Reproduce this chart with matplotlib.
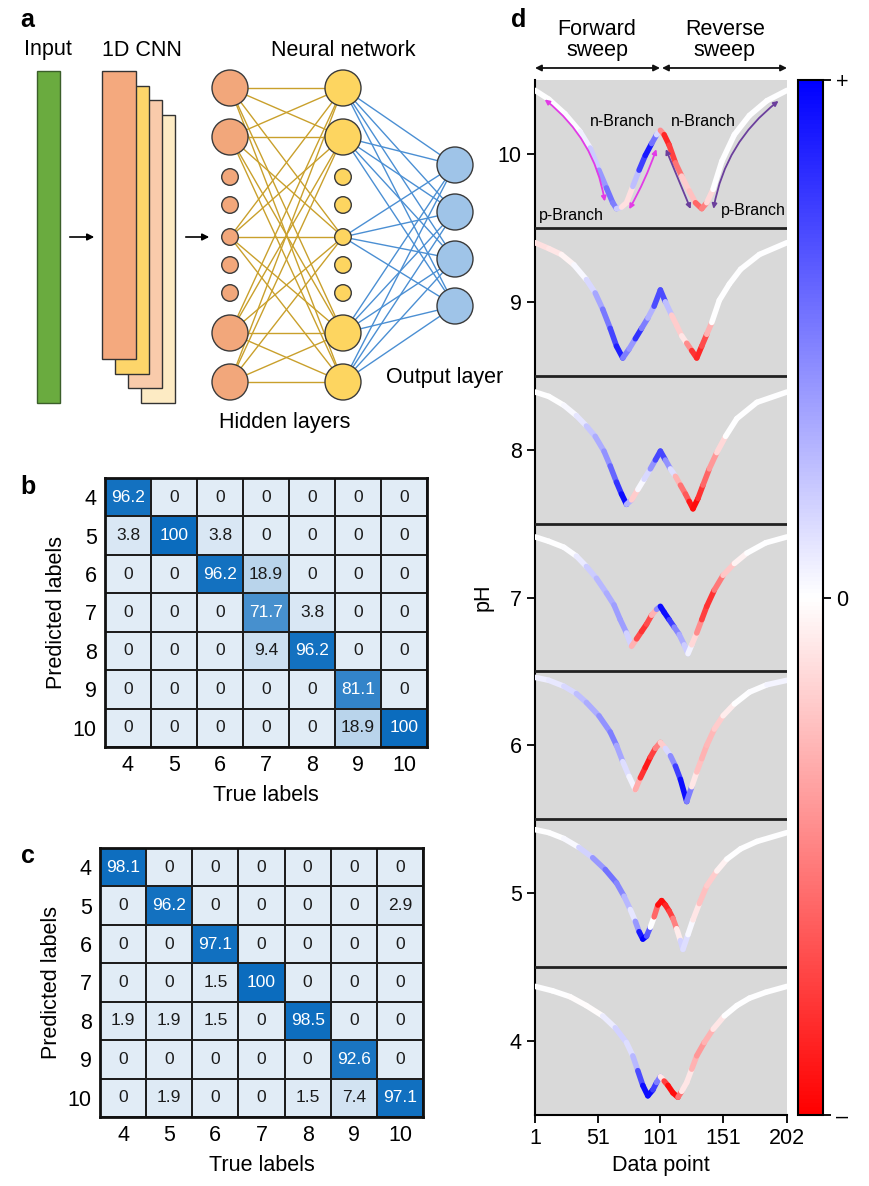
import numpy as np
import matplotlib
matplotlib.use("Agg")
import matplotlib.pyplot as plt
from matplotlib.collections import LineCollection
from matplotlib.colors import LinearSegmentedColormap, Normalize
from matplotlib.patches import Rectangle, Circle, FancyArrowPatch
import matplotlib.cm as mcm

plt.rcParams['font.family'] = ['Liberation Sans', 'DejaVu Sans']

W, H = 869, 1186

# ---- confusion matrices (rows: predicted 4..10, cols: true 4..10)
labels = [4, 5, 6, 7, 8, 9, 10]
cm_b = [[96.2, 0, 0, 0, 0, 0, 0],
        [3.8, 100, 3.8, 0, 0, 0, 0],
        [0, 0, 96.2, 18.9, 0, 0, 0],
        [0, 0, 0, 71.7, 3.8, 0, 0],
        [0, 0, 0, 9.4, 96.2, 0, 0],
        [0, 0, 0, 0, 0, 81.1, 0],
        [0, 0, 0, 0, 0, 18.9, 100]]
cm_c = [[98.1, 0, 0, 0, 0, 0, 0],
        [0, 96.2, 0, 0, 0, 0, 2.9],
        [0, 0, 97.1, 0, 0, 0, 0],
        [0, 0, 1.5, 100, 0, 0, 0],
        [1.9, 1.9, 1.5, 0, 98.5, 0, 0],
        [0, 0, 0, 0, 0, 92.6, 0],
        [0, 1.9, 0, 0, 1.5, 7.4, 97.1]]

# ---- panel d: transfer curves per pH, coloured by contribution (-1..+1)
x10 = [1, 12, 25, 37, 45, 52, 58, 63, 66, 70, 74, 79, 84, 89, 94, 98, 101, 104, 108, 113, 118, 124, 129, 134, 138, 143, 150, 160, 172, 186, 202]
ph10 = [10.43, 10.37, 10.27, 10.15, 10.04, 9.89, 9.77, 9.67, 9.63, 9.64, 9.67, 9.78, 9.89, 9.99, 10.07, 10.13, 10.16, 10.13, 10.06, 9.94, 9.85, 9.75, 9.67, 9.63, 9.67, 9.76, 9.95, 10.13, 10.26, 10.36, 10.43]
c10 = [0, 0, 0, 0.02, 0.1, 0.3, 0.5, 0.6, 0.4, 0.0, -0.25, 0.0, 0.5, 1.0, 0.8, 0.3, 0.0, -0.9, -0.8, -0.7, -0.4, 0.0, -0.5, -0.7, -0.3, 0, 0, 0, 0, 0, 0]

x9 = [1, 12, 22, 32, 42, 49, 55, 61, 66, 71, 76, 81, 86, 91, 96, 101, 105, 110, 114, 118, 122, 126, 130, 134, 138, 142, 148, 156, 165, 180, 202]
ph9 = [9.40, 9.36, 9.32, 9.25, 9.15, 9.06, 8.95, 8.82, 8.70, 8.62, 8.68, 8.75, 8.82, 8.89, 8.97, 9.08, 9.00, 8.91, 8.84, 8.77, 8.72, 8.67, 8.62, 8.70, 8.78, 8.86, 9.01, 9.12, 9.22, 9.32, 9.40]
c9 = [-0.12, -0.12, -0.08, 0.0, 0.05, 0.25, 0.45, 0.6, 0.85, 0.9, 0.1, 0.7, 0.9, 0.1, 0.5, 0.9, 0.5, 0.0, -0.4, 0.0, -0.2, -0.7, -0.9, -0.8, -0.6, 0.0, 0, 0, 0, 0, 0]

x8 = [1, 12, 24, 34, 42, 49, 56, 61, 66, 70, 74, 78, 83, 88, 93, 97, 101, 105, 109, 113, 117, 121, 124, 127, 131, 135, 140, 146, 153, 162, 178, 202]
ph8 = [8.39, 8.36, 8.30, 8.23, 8.16, 8.09, 7.99, 7.89, 7.78, 7.70, 7.63, 7.66, 7.73, 7.80, 7.87, 7.93, 7.99, 7.93, 7.87, 7.82, 7.76, 7.70, 7.65, 7.60, 7.67, 7.76, 7.87, 7.98, 8.09, 8.21, 8.32, 8.39]
c8 = [0, 0, 0, 0.05, 0.15, 0.3, 0.35, 0.5, 0.7, 0.9, 1.0, -0.4, 0.0, 0.05, 0.25, 0.6, 0.85, 0.6, 0.25, 0.0, -0.6, -0.5, -0.8, -1.0, -0.9, -0.7, -0.5, -0.3, 0.0, 0, 0, 0]

x7 = [1, 12, 24, 34, 42, 50, 58, 64, 69, 74, 78, 82, 86, 90, 94, 98, 101, 104, 108, 112, 116, 120, 123, 126, 130, 134, 138, 144, 151, 160, 170, 185, 202]
ph7 = [7.41, 7.38, 7.34, 7.28, 7.21, 7.13, 7.03, 6.95, 6.85, 6.76, 6.67, 6.72, 6.77, 6.82, 6.88, 6.92, 6.94, 6.90, 6.85, 6.80, 6.75, 6.68, 6.62, 6.68, 6.76, 6.85, 6.94, 7.05, 7.15, 7.23, 7.30, 7.37, 7.41]
c7 = [0, 0, 0, 0.02, 0.15, 0.25, 0.3, 0.35, 0.4, 0.35, 0.0, -0.6, -0.8, -0.8, -0.6, 0.0, 0.9, 1.0, 0.9, 0.6, 0.35, 0.3, 0.1, 0.0, -0.3, -0.6, -0.9, -0.7, -0.35, -0.1, 0, 0, 0]

x6 = [1, 12, 24, 34, 42, 52, 61, 66, 71, 76, 81, 85, 89, 93, 97, 101, 105, 109, 113, 117, 122, 126, 130, 134, 138, 144, 151, 160, 172, 186, 202]
ph6 = [6.46, 6.44, 6.40, 6.35, 6.29, 6.20, 6.09, 6.00, 5.89, 5.79, 5.70, 5.78, 5.85, 5.92, 5.98, 6.02, 5.98, 5.93, 5.86, 5.77, 5.62, 5.72, 5.82, 5.91, 6.00, 6.11, 6.20, 6.28, 6.36, 6.41, 6.44]
c6 = [0.05, 0.08, 0.1, 0.2, 0.3, 0.35, 0.5, 0.5, 0.2, 0.05, 0.05, -0.7, -0.9, -0.9, -0.6, -0.4, 0.0, 0.3, 0.6, 0.9, 1.0, 0.0, -0.2, -0.3, -0.3, -0.25, -0.15, 0, 0, 0.03, 0.05]

x5 = [1, 12, 24, 36, 47, 57, 66, 72, 77, 81, 84, 87, 90, 93, 96, 99, 102, 105, 108, 111, 114, 117, 119, 123, 127, 132, 138, 146, 154, 165, 178, 202]
ph5 = [5.43, 5.41, 5.37, 5.31, 5.24, 5.16, 5.07, 4.98, 4.89, 4.81, 4.74, 4.69, 4.71, 4.77, 4.84, 4.92, 4.95, 4.92, 4.88, 4.83, 4.76, 4.68, 4.62, 4.72, 4.82, 4.93, 5.05, 5.15, 5.23, 5.30, 5.35, 5.41]
c5 = [0, 0, 0, 0.05, 0.3, 0.5, 0.6, 0.35, 0.2, 0.0, 0.8, 1.0, 1.0, 0.3, -0.3, -0.9, -1.0, -0.9, -0.8, -0.7, -0.3, 0.15, 0.2, 0.05, 0.0, -0.2, -0.3, -0.1, 0, 0, 0, 0]

x4 = [1, 15, 29, 42, 55, 65, 74, 79, 83, 87, 91, 95, 98, 101, 104, 107, 111, 115, 118, 122, 126, 130, 136, 143, 152, 162, 172, 185, 202]
ph4 = [4.37, 4.34, 4.30, 4.24, 4.17, 4.09, 3.99, 3.90, 3.80, 3.70, 3.63, 3.67, 3.72, 3.76, 3.73, 3.70, 3.65, 3.62, 3.66, 3.72, 3.81, 3.90, 3.99, 4.08, 4.17, 4.24, 4.29, 4.33, 4.37]
c4 = [0, 0, 0, -0.03, 0.0, 0.15, 0.2, 0.05, 0.5, 0.9, 1.0, 0.9, 0.6, 0.4, -0.6, -0.9, -1.0, -0.9, -0.2, 0.0, -0.2, -0.4, -0.4, -0.2, 0, 0, 0, 0, 0]

ph_ticks = [4, 5, 6, 7, 8, 9, 10]
dp_ticks = [1, 51, 101, 151, 202]


def fx(px):
    return px / W


def fy(py):
    return 1 - py / H


fig = plt.figure(figsize=(W / 100, H / 100), dpi=100)

# ================= panel a : network sketch (pixel coords) =================
axa = fig.add_axes([0, fy(440), fx(520), 440 / H])
axa.set_xlim(0, 520)
axa.set_ylim(440, 0)
axa.axis('off')

axa.add_patch(Rectangle((37, 71), 23, 332, fc='#6aab3f', ec='#3b5e2a', lw=1))
cnn_colors = ['#fdebc4', '#f9cbab', '#fdd56a', '#f4a97e']  # back to front
for i, col in enumerate(cnn_colors):
    k = 3 - i
    axa.add_patch(Rectangle((102 + 13 * k, 71 + 14.7 * k), 34, 288,
                            fc=col, ec='#333333', lw=1))
for x0, x1 in [(67, 97), (183, 212)]:
    axa.annotate('', xy=(x1, 237), xytext=(x0, 237),
                 arrowprops=dict(arrowstyle='-|>', color='black', lw=1.2,
                                 mutation_scale=10))

node_y = [88, 137, 177, 205, 237, 265, 293, 333, 382]
node_big = [True, True, False, False, False, False, False, True, True]
linked = [0, 1, 4, 7, 8]
out_y = [165, 212, 259, 306]
lx1, lx2, lx3 = 230, 343, 455
for i in linked:
    for j in linked:
        axa.plot([lx1, lx2], [node_y[i], node_y[j]], color='#c9a02c', lw=1, zorder=1)
    for yo in out_y:
        axa.plot([lx2, lx3], [node_y[i], yo], color='#4b8fd3', lw=1, zorder=1)
for yy, big in zip(node_y, node_big):
    r = 18 if big else 8.3
    axa.add_patch(Circle((lx1, yy), r, fc='#f2a77b', ec='#3a3a3a', lw=1, zorder=3))
    axa.add_patch(Circle((lx2, yy), r, fc='#fdd560', ec='#3a3a3a', lw=1, zorder=3))
for yo in out_y:
    axa.add_patch(Circle((lx3, yo), 18, fc='#9fc4e8', ec='#3a3a3a', lw=1, zorder=3))

for txt, xx, yy in [('Input', 48, 50), ('1D CNN', 142, 50), ('Neural network', 343, 50),
                    ('Hidden layers', 285, 423), ('Output layer', 445, 378)]:
    axa.text(xx, yy, txt, ha='center', va='center', fontsize=15.5)

# ================= panels b, c : confusion matrices =================
cmap_cm = LinearSegmentedColormap.from_list('cmblue', ['#e1ecf6', '#0b6cbe'])


def draw_cm(rect, mat):
    ax = fig.add_axes(rect)
    m = np.array(mat, dtype=float)
    edges = np.arange(3.5, 11)
    ax.pcolormesh(edges, edges, m, cmap=cmap_cm, vmin=0, vmax=100,
                  edgecolors='#1e1e1e', linewidth=1.3)
    ax.set_xlim(3.5, 10.5)
    ax.set_ylim(10.5, 3.5)
    for r, yl in enumerate(labels):
        for c, xl in enumerate(labels):
            v = m[r, c]
            s = '0' if v == 0 else ('100' if v == 100 else f'{v:.1f}')
            ax.text(xl, yl, s, ha='center', va='center', fontsize=12.5,
                    color='white' if v > 50 else '#1a1a1a')
    ax.set_xticks(labels)
    ax.set_yticks(labels)
    ax.tick_params(length=0, labelsize=15.5, pad=6)
    for sp in ax.spines.values():
        sp.set_linewidth(2)
        sp.set_color('#111111')
    ax.set_xlabel('True labels', fontsize=15.5, labelpad=6)
    ax.set_ylabel('Predicted labels', fontsize=15.5, labelpad=4)
    return ax


draw_cm([fx(105), fy(747), 322 / W, 269 / H], cm_b)
draw_cm([fx(100), fy(1117), 323 / W, 269 / H], cm_c)

# ================= panel d : coloured curves =================
norm = Normalize(-1, 1)
axd = fig.add_axes([fx(535), fy(1115), 252 / W, 1035 / H])
axd.set_facecolor('#d9d9d9')
for xs, ys, cs in [(x10, ph10, c10), (x9, ph9, c9), (x8, ph8, c8), (x7, ph7, c7),
                   (x6, ph6, c6), (x5, ph5, c5), (x4, ph4, c4)]:
    pts = np.column_stack([xs, ys])
    segs = np.stack([pts[:-1], pts[1:]], axis=1)
    cc = np.array(cs, dtype=float)
    lc = LineCollection(segs, cmap='bwr_r', norm=norm, linewidths=4,
                        capstyle='round', joinstyle='round', zorder=3)
    lc.set_array((cc[:-1] + cc[1:]) / 2)
    axd.add_collection(lc)

for yb in [4.5, 5.5, 6.5, 7.5, 8.5, 9.5]:
    axd.axhline(yb, color='#222222', lw=2, zorder=4)

axd.set_xlim(1, 202)
axd.set_ylim(3.5, 10.5)
axd.set_xticks(dp_ticks)
axd.set_yticks(ph_ticks)
axd.tick_params(labelsize=15.5, length=6, width=1.3, direction='out')
for s in ['top', 'right']:
    axd.spines[s].set_visible(False)
for s in ['left', 'bottom']:
    axd.spines[s].set_linewidth(1.5)
axd.set_xlabel('Data point', fontsize=15.5, labelpad=4)
axd.set_ylabel('pH', fontsize=15.5, labelpad=3)

# branch arrows in the pH 10 panel
mag, pur = '#e23be6', '#6b3f9c'
for a, b, col, rad in [((57, 9.66), (7, 10.38), mag, 0.2),
                       ((75, 9.61), (98.5, 10.05), mag, 0.05),
                       ((104.5, 10.05), (126, 9.61), pur, 0.0),
                       ((143, 9.61), (197, 10.37), pur, -0.2)]:
    axd.add_patch(FancyArrowPatch(a, b, arrowstyle='<|-|>', color=col, lw=1.3,
                                  mutation_scale=7, connectionstyle=f'arc3,rad={rad}',
                                  zorder=5))
for txt, xx, yy in [('n-Branch', 71, 10.22), ('n-Branch', 135, 10.22),
                    ('p-Branch', 30, 9.585), ('p-Branch', 175, 9.615)]:
    axd.text(xx, yy, txt, ha='center', va='center', fontsize=11.5, zorder=6)

# sweep headers
for x0, x1 in [(1, 100.7), (102.3, 202)]:
    axd.annotate('', xy=(x1, 1.0116), xytext=(x0, 1.0116),
                 xycoords=('data', 'axes fraction'), textcoords=('data', 'axes fraction'),
                 arrowprops=dict(arrowstyle='<|-|>', color='#111111', lw=1.3,
                                 mutation_scale=9, shrinkA=0, shrinkB=0),
                 annotation_clip=False)
axd.text(50.5, 1.0386, 'Forward\nsweep', transform=axd.get_xaxis_transform(),
         ha='center', va='center', fontsize=15.5, linespacing=0.95)
axd.text(152.5, 1.0386, 'Reverse\nsweep', transform=axd.get_xaxis_transform(),
         ha='center', va='center', fontsize=15.5, linespacing=0.95)

# colour bar
cax = fig.add_axes([fx(798), fy(1115), 25 / W, 1035 / H])
cb = fig.colorbar(mcm.ScalarMappable(norm=norm, cmap='bwr_r'), cax=cax)
cb.set_ticks([-1, 0, 1])
cb.set_ticklabels(['\u2013', '0', '+'])
cb.outline.set_linewidth(1.5)
cax.tick_params(labelsize=15.5, length=6, width=1.3)

# panel letters
for letter, px, py in [('a', 27, 20), ('b', 28, 487), ('c', 28, 856), ('d', 519, 20)]:
    fig.text(fx(px), fy(py), letter, fontsize=18, fontweight='bold', ha='center', va='center')

fig.savefig('out.png', dpi=100)
